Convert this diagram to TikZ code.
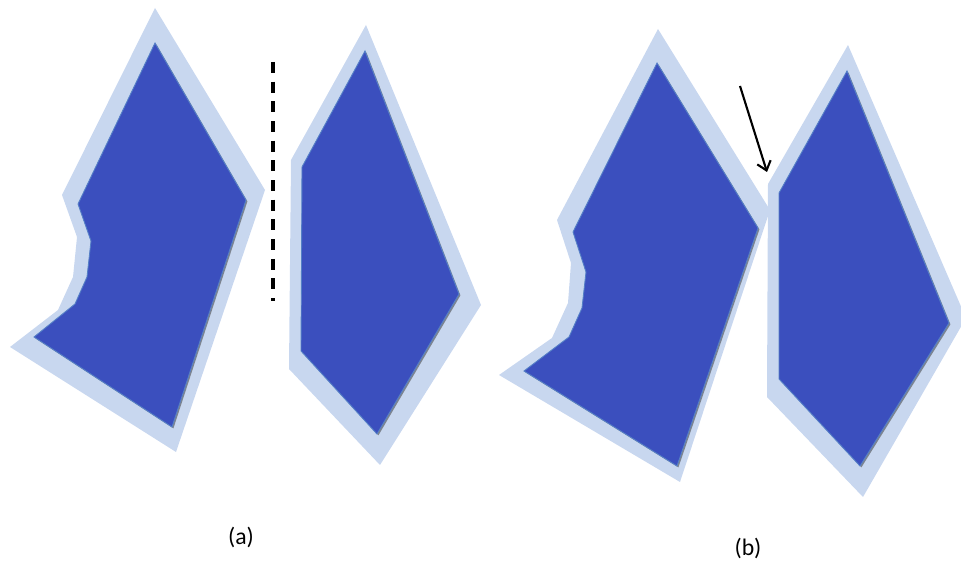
\documentclass[tikz,border=0pt]{standalone}
\usepackage{fontspec}
\setmainfont{Carlito}
\usetikzlibrary{arrows.meta, shadows}
\definecolor{cdeep}{HTML}{3B4FBE}
\definecolor{chalo}{HTML}{C8D7EF}
\definecolor{cedge}{HTML}{5580C6}
\tikzset{
  every picture/.style={x=0.02cm, y=-0.02cm},
  halo/.style={fill=chalo, draw=none},
  piece/.style={fill=cdeep, draw=cedge, line width=0.5pt,
    drop shadow={shadow xshift=0.8pt, shadow yshift=-0.8pt, opacity=0.5, fill=black!80}},
  cut/.style={draw=black, line width=2.2pt, dash pattern=on 6.2pt off 5pt},
  pointer/.style={-{Straight Barb[length=1.7mm, width=2.8mm]}, line width=1.2pt},
  tag/.style={font=\fontsize{13.5}{16}\selectfont},
}

\begin{document}
\begin{tikzpicture}
  \useasboundingbox (0,0) rectangle (961,563);
  % (a) apart
  \fill[halo] (155,8) -- (265,190) -- (176,452) -- (10,347) -- (58,310) -- (73,277) -- (77,237) -- (62,195) -- cycle;
  \path[piece] (155,43) -- (246,200) -- (172,427) -- (34,337) -- (75,304) -- (87,277) -- (91,241) -- (78,204) -- cycle;
  \fill[halo] (366,25) -- (481,305) -- (380,465) -- (289,369) -- (291,160) -- cycle;
  \path[piece] (365,51) -- (459,294) -- (377,434) -- (301,351) -- (302,167) -- cycle;
  \coordinate (cuttop) at (273,62);
  \coordinate (cutbot) at (273,301);
  \draw[cut] (cuttop) -- (cutbot);
  \node[tag] (lbla) at (241,537) {(a)};
  % (b) touching
  \fill[halo] (658,29) -- (770,210) -- (680,482) -- (499,375) -- (552,338) -- (568,303) -- (571,263) -- (557,220) -- cycle;
  \path[piece] (657,63) -- (758,228) -- (677,466) -- (524,371) -- (569,337) -- (582,308) -- (586,272) -- (573,232) -- cycle;
  \fill[halo] (848,45) -- (966,318) -- (863,497) -- (767,397) -- (768,184) -- cycle;
  \path[piece] (847,71) -- (949,323) -- (860,466) -- (779,379) -- (779,193) -- cycle;
  \coordinate (ptail) at (740,86);
  \coordinate (phead) at (767,172);
  \draw[pointer] (ptail) -- (phead);
  \node[tag] (lblb) at (748,548) {(b)};
\end{tikzpicture}
\end{document}
